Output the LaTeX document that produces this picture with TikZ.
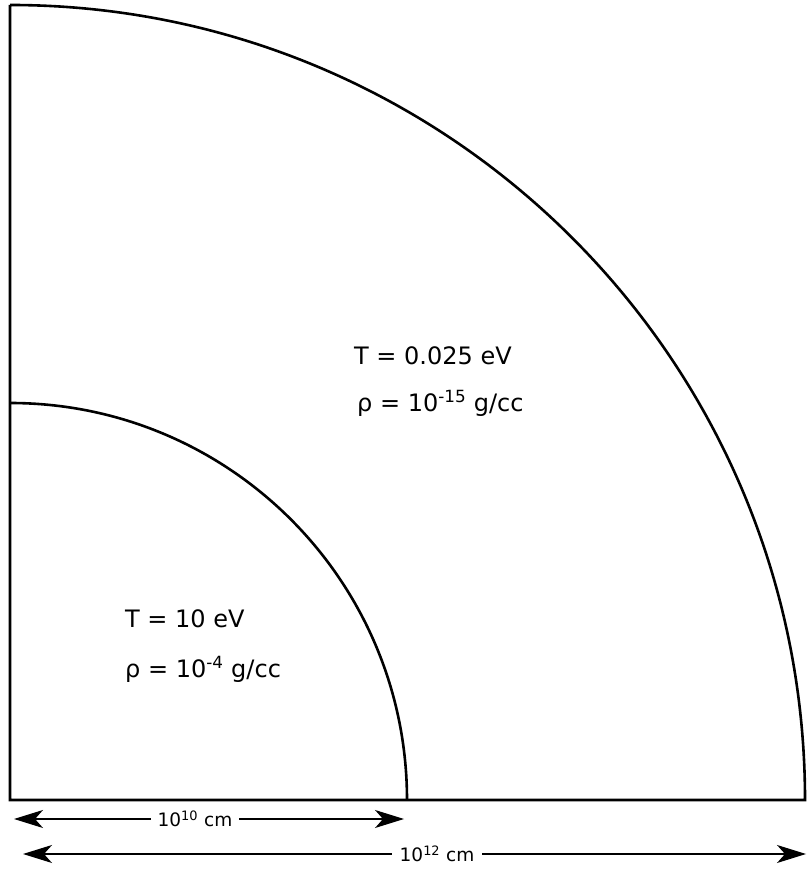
\documentclass[tikz,border=0pt]{standalone}
\usepackage{fontspec}
\setmainfont{DejaVu Sans}
\usepackage{xcolor}
\usetikzlibrary{arrows.meta,positioning}
\definecolor{ink}{HTML}{000000}
\tikzset{
  shell/.style={draw=ink, line width=2.6pt, line join=miter},
  dim/.style={{Stealth[length=29pt,width=18pt,inset=8pt]}-{Stealth[length=29pt,width=18pt,inset=8pt]},
              draw=ink, line width=1.3pt},
  val/.style={anchor=base west, font=\fontsize{24}{28}\selectfont, inner sep=0pt, text=ink},
  dimlbl/.style={fill=white, font=\fontsize{18.5}{22}\selectfont, inner sep=3pt, text=ink}
}
\begin{document}
\begin{tikzpicture}[x=1pt, y=1pt]
  \useasboundingbox (-10,-69) rectangle (796,800);
  % outer and inner quarter discs
  \draw[shell] (0,795) -- (0,0) -- (795,0) arc[start angle=0, end angle=90, radius=795];
  \draw[shell] (397,0) arc[start angle=0, end angle=90, radius=397];
  % region values
  \node[val] (Tout) at (344,435) {T = 0.025 eV};
  \node[val] (rhoout) at (347,388) {ρ = 10\textsuperscript{-15} g/cc};
  \node[val] (Tin) at (115,172) {T = 10 eV};
  \node[val] (rhoin) at (115,122) {ρ = 10\textsuperscript{-4} g/cc};
  % radii
  \coordinate (a1) at (4,-19);  \coordinate (b1) at (394,-19);
  \coordinate (a2) at (13,-54); \coordinate (b2) at (796,-54);
  \draw[dim] (a1) -- (b1);
  \draw[dim] (a2) -- (b2);
  \node[dimlbl, inner xsep=7pt] (rin) at (185,-19) {10\textsuperscript{10} cm};
  \node[dimlbl, inner xsep=8pt] (rout) at (427,-54) {10\textsuperscript{12} cm};
\end{tikzpicture}
\end{document}
